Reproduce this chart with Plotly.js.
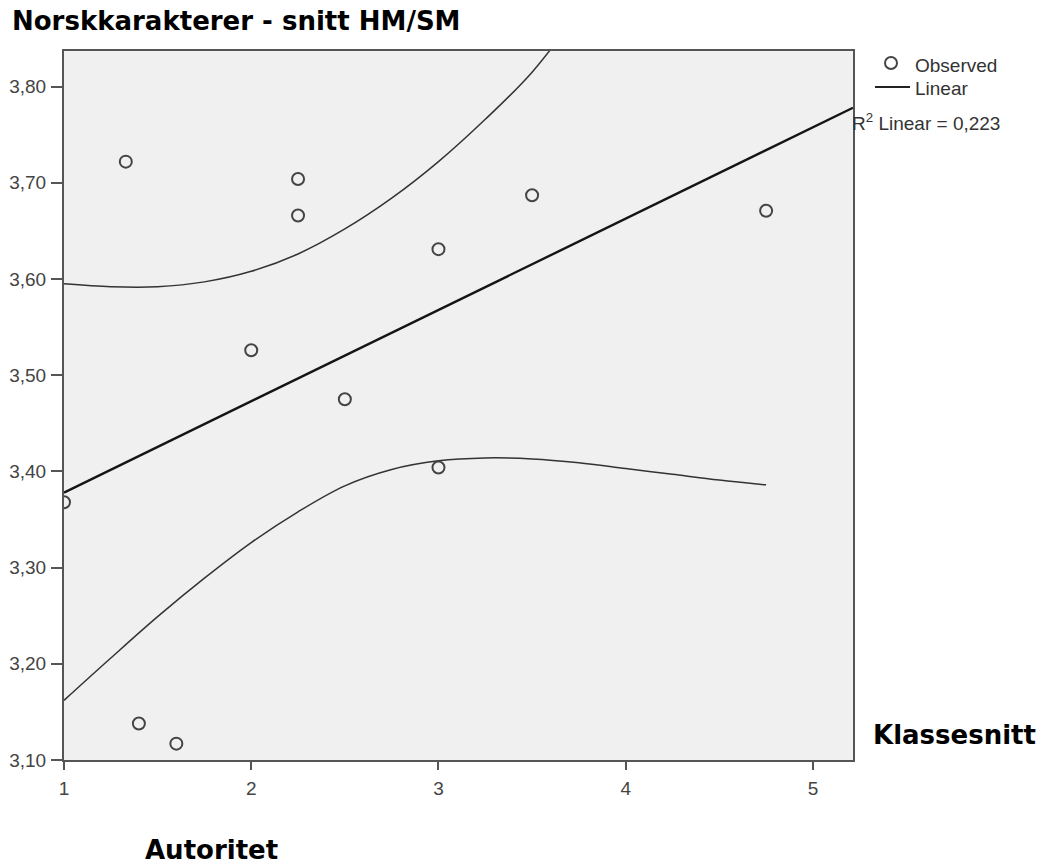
<!DOCTYPE html>
<html>
<head>
<meta charset="utf-8">
<script src="https://cdn.plot.ly/plotly-3.0.1.min.js"></script>
<style>
  html, body { margin: 0; padding: 0; background: #ffffff; }
  #chart { width: 1044px; height: 866px; }
</style>
</head>
<body>
<div id="chart"></div>
<script>
// Observed class averages: authority score vs. Norwegian grade average
const autoritet = [1.00, 1.33, 2.25, 2.25, 2.00, 2.50, 3.00, 3.00, 3.50, 4.75, 1.40, 1.60];
const norskSnitt = [3.368, 3.722, 3.704, 3.666, 3.526, 3.475, 3.631, 3.404, 3.687, 3.671, 3.138, 3.117];

// Linear fit line (R² = 0,223)
const fitX = [1.00, 5.214];
const fitY = [3.378, 3.778];

// Confidence band around the fit
const upperX = [1.00, 1.25, 1.50, 1.75, 2.00, 2.25, 2.50, 2.75, 3.00, 3.25, 3.50, 3.75];
const upperY = [3.595, 3.592, 3.592, 3.597, 3.608, 3.626, 3.652, 3.684, 3.722, 3.766, 3.815, 3.878];
const lowerX = [1.00, 1.25, 1.50, 1.75, 2.00, 2.25, 2.50, 2.75, 3.00, 3.25, 3.50, 3.75, 4.00, 4.25, 4.50, 4.75];
const lowerY = [3.162, 3.206, 3.249, 3.289, 3.326, 3.358, 3.385, 3.402, 3.411, 3.414, 3.413, 3.409, 3.403, 3.397, 3.391, 3.386];

// Axis ticks
const xTickVals = [1, 2, 3, 4, 5];
const xTickText = ['1', '2', '3', '4', '5'];
const yTickVals = [3.1, 3.2, 3.3, 3.4, 3.5, 3.6, 3.7, 3.8];
const yTickText = ['3,10', '3,20', '3,30', '3,40', '3,50', '3,60', '3,70', '3,80'];

const rSquaredLabel = 'R<sup>2</sup> Linear = 0,223';

// Plot area geometry in pixels (used to place legend items in paper units)
const W = 1044, H = 866;
const M = { l: 64, r: 191, t: 51, b: 106 };
const PW = W - M.l - M.r, PH = H - M.t - M.b;
const px = x => (x - M.l) / PW;
const py = y => (H - M.b - y) / PH;

const tickFont = { family: 'Liberation Sans, Arial, sans-serif', size: 19, color: '#444' };
const boldFont = { family: 'DejaVu Sans, Verdana, sans-serif', size: 26, color: '#000' };

const traces = [
  {
    x: upperX, y: upperY, type: 'scatter', mode: 'lines',
    line: { color: '#333', width: 1.5, shape: 'spline', smoothing: 1 },
    hoverinfo: 'skip', showlegend: false
  },
  {
    x: lowerX, y: lowerY, type: 'scatter', mode: 'lines',
    line: { color: '#333', width: 1.5, shape: 'spline', smoothing: 1 },
    hoverinfo: 'skip', showlegend: false
  },
  {
    x: fitX, y: fitY, type: 'scatter', mode: 'lines', name: 'Linear',
    line: { color: '#151515', width: 2.4 },
    showlegend: false
  },
  {
    x: autoritet, y: norskSnitt, type: 'scatter', mode: 'markers', name: 'Observed',
    marker: { symbol: 'circle-open', size: 12, color: '#444', line: { width: 2, color: '#444' } },
    cliponaxis: true, showlegend: false
  }
];

const layout = {
  width: W, height: H,
  margin: M,
  paper_bgcolor: '#ffffff',
  plot_bgcolor: '#f0f0f0',
  showlegend: false,
  title: {
    text: '<b>Norskkarakterer - snitt HM/SM</b>',
    font: boldFont,
    xref: 'container', yref: 'container',
    x: 12 / W, xanchor: 'left',
    y: 1 - 21 / H, yanchor: 'middle'
  },
  xaxis: {
    range: [1, 5.214],
    tickvals: xTickVals, ticktext: xTickText,
    ticks: 'outside', ticklen: 8, tickwidth: 2, tickcolor: '#555',
    ticklabelstandoff: 2,
    tickfont: tickFont,
    showgrid: false, zeroline: false,
    showline: true, mirror: true, linecolor: '#555', linewidth: 2
  },
  yaxis: {
    range: [3.1, 3.837],
    tickvals: yTickVals, ticktext: yTickText,
    ticks: 'outside', ticklen: 11, tickwidth: 2, tickcolor: '#555',
    ticklabelstandoff: 1,
    tickfont: tickFont,
    showgrid: false, zeroline: false,
    showline: true, mirror: true, linecolor: '#555', linewidth: 2
  },
  shapes: [
    {
      type: 'circle', xref: 'paper', yref: 'paper',
      xsizemode: 'pixel', ysizemode: 'pixel',
      xanchor: px(891), yanchor: py(63),
      x0: -6, x1: 6, y0: -6, y1: 6,
      line: { color: '#444', width: 2 }
    },
    {
      type: 'line', xref: 'paper', yref: 'paper',
      x0: px(875), x1: px(910), y0: py(87), y1: py(87),
      line: { color: '#222', width: 2 }
    }
  ],
  annotations: [
    {
      text: 'Observed', xref: 'paper', yref: 'paper',
      x: px(913), y: py(66), xanchor: 'left', yanchor: 'middle',
      showarrow: false, font: { family: tickFont.family, size: 19, color: '#333' }
    },
    {
      text: 'Linear', xref: 'paper', yref: 'paper',
      x: px(913), y: py(88), xanchor: 'left', yanchor: 'middle',
      showarrow: false, font: { family: tickFont.family, size: 19, color: '#333' }
    },
    {
      text: rSquaredLabel, xref: 'paper', yref: 'paper',
      x: px(850), y: py(122), xanchor: 'left', yanchor: 'middle',
      showarrow: false, font: { family: tickFont.family, size: 19, color: '#333' }
    },
    {
      text: '<b>Klassesnitt</b>', xref: 'paper', yref: 'paper',
      x: px(871), y: py(735), xanchor: 'left', yanchor: 'middle',
      showarrow: false, font: boldFont
    },
    {
      text: '<b>Autoritet</b>', xref: 'paper', yref: 'paper',
      x: px(143), y: py(850), xanchor: 'left', yanchor: 'middle',
      showarrow: false, font: boldFont
    }
  ]
};

Plotly.newPlot('chart', traces, layout, { displayModeBar: false, staticPlot: true });
</script>
</body>
</html>
